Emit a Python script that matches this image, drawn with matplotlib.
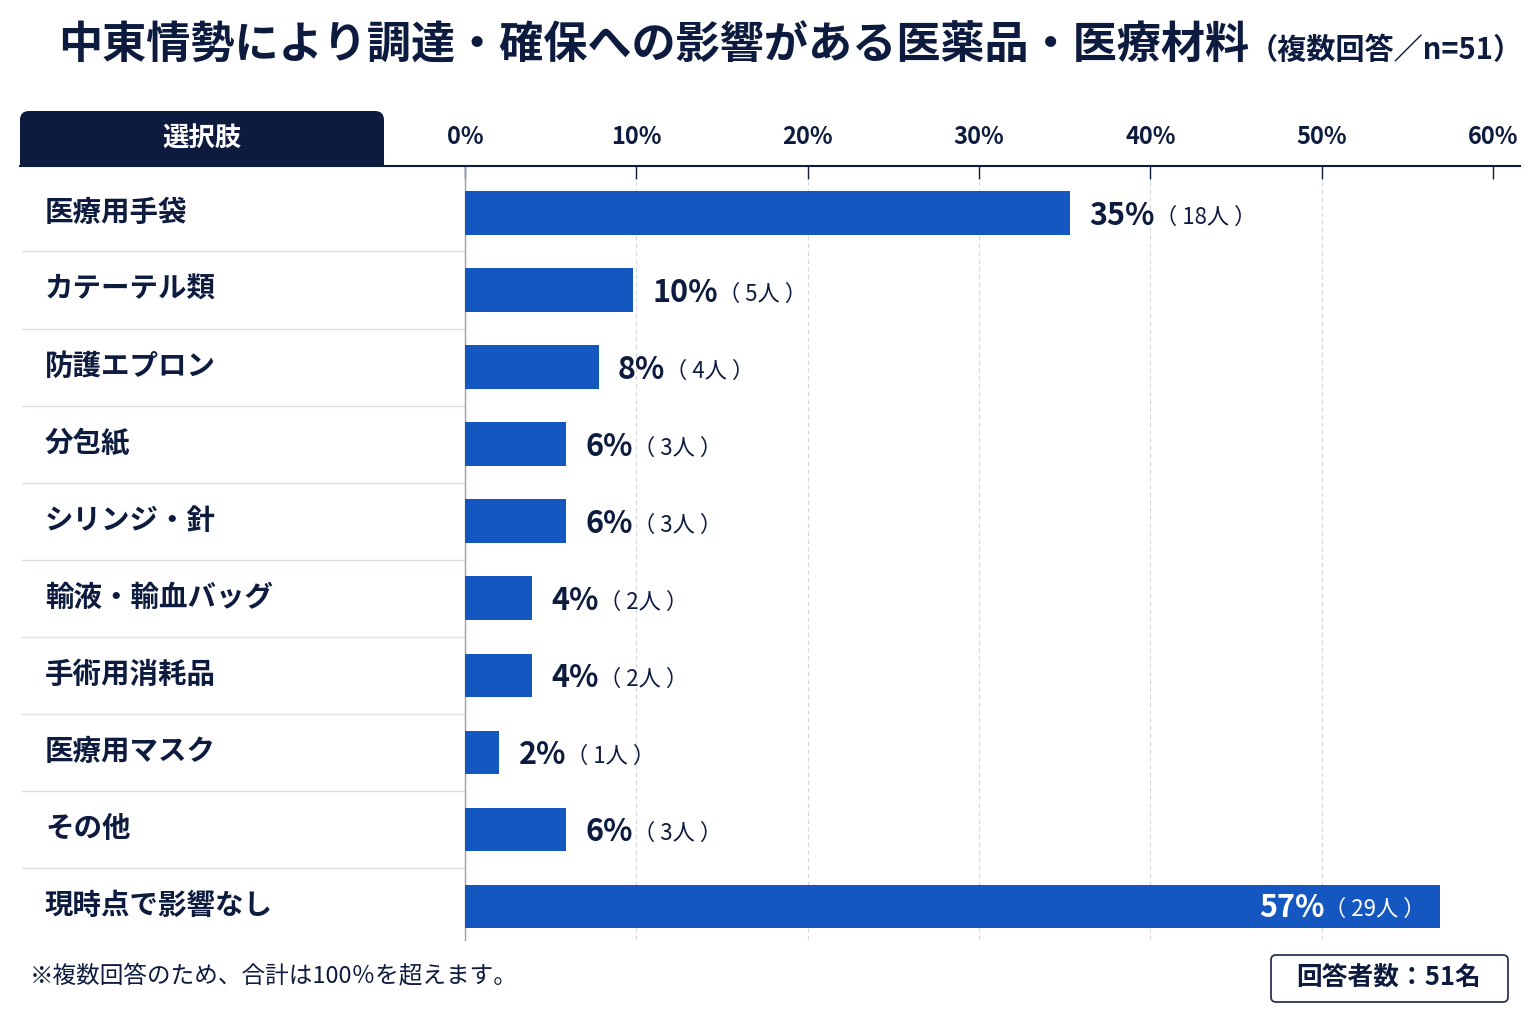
import matplotlib
matplotlib.use('Agg')
import matplotlib.pyplot as plt
from matplotlib.patches import FancyBboxPatch, Rectangle
from matplotlib.lines import Line2D
from matplotlib.transforms import blended_transform_factory, IdentityTransform

plt.rcParams['font.family'] = ['Noto Sans CJK JP', 'DejaVu Sans']

categories = ['医療用手袋', 'カテーテル類', '防護エプロン', '分包紙', 'シリンジ・針',
              '輸液・輸血バッグ', '手術用消耗品', '医療用マスク', 'その他', '現時点で影響なし']
percent = [35.3, 9.8, 7.8, 5.9, 5.9, 3.9, 3.9, 2.0, 5.9, 56.9]
pct_labels = ['35%', '10%', '8%', '6%', '6%', '4%', '4%', '2%', '6%', '57%']
counts = [18, 5, 4, 3, 3, 2, 2, 1, 3, 29]
x_ticks = [0, 10, 20, 30, 40, 50, 60]

NAVY = '#0d1b3e'
BAR = '#1557c0'
W, H = 1536, 1024


def fx(px):
    return px / W


def fy(py):
    return 1 - py / H


fig = plt.figure(figsize=(15.36, 10.24), dpi=100)
fig.patch.set_facecolor('white')

ax = fig.add_axes([fx(465), fy(940), fx(1493) - fx(465), fy(166) - fy(940)])
rows = list(range(len(categories)))
ax.barh(rows, percent, height=0.56, color=BAR, zorder=3)
ax.set_xlim(0, 60)
ax.set_ylim(9.44, -0.61)

ax.set_xticks(x_ticks)
ax.set_xticklabels([f'{t}%' for t in x_ticks])
ax.xaxis.tick_top()
ax.tick_params(axis='x', direction='in', length=9, width=1, color=NAVY,
               labelsize=17, labelcolor=NAVY, pad=12)
for lbl in ax.get_xticklabels():
    lbl.set_fontweight('bold')
ax.set_yticks([])
ax.grid(axis='x', color='#d3d6dc', lw=0.8, ls=(0, (4, 3)), zorder=0)
for s in ['top', 'right', 'bottom']:
    ax.spines[s].set_visible(False)
ax.spines['left'].set_color('#9aa0aa')
ax.spines['left'].set_linewidth(1)

# header line across the table
fig.add_artist(Line2D([fx(20), fx(1520)], [fy(166), fy(166)], color=NAVY, lw=1.5))

# category labels and row separators
trans = blended_transform_factory(fig.transFigure, ax.transData)
for i, cat in enumerate(categories):
    ax.text(fx(45), i, cat, transform=trans, ha='left', va='center', fontsize=20.5,
            fontweight='bold', color=NAVY, clip_on=False)
for i in range(len(categories) - 1):
    ax.add_line(Line2D([fx(22), fx(465)], [i + 0.5, i + 0.5], transform=trans,
                       color='#dcdfe4', lw=1, clip_on=False))

# value labels
for i, (v, p, c) in enumerate(zip(percent, pct_labels, counts)):
    if v > 50:
        t2 = ax.annotate(f'（ {c}人 ）', xy=(v, i), xytext=(-10, -2), textcoords='offset points',
                         ha='right', va='center', fontsize=16, color='white', zorder=5)
        ax.annotate(p, xy=(0, 0.55), xycoords=t2, ha='right', va='center',
                    fontsize=22, fontweight='bold', color='white', zorder=5)
    else:
        t = ax.annotate(p, xy=(v, i), xytext=(14, -2), textcoords='offset points',
                        ha='left', va='center', fontsize=22, fontweight='bold', color=NAVY)
        ax.annotate(f'（ {c}人 ）', xy=(1, 0.45), xycoords=t, ha='left', va='center',
                    fontsize=16, color=NAVY)

# header box "選択肢"
px = IdentityTransform()
hb = FancyBboxPatch((20, H - 166), 364, 55, boxstyle='round,pad=0,rounding_size=9',
                    transform=px, fc=NAVY, ec='none')
fig.add_artist(hb)
fig.add_artist(Rectangle((20, H - 166), 364, 25, transform=px, fc=NAVY, ec='none'))
fig.text(fx(202), fy(138), '選択肢', ha='center', va='center', fontsize=19,
         fontweight='bold', color='white')

# title
title = fig.text(fx(58), fy(46), '中東情勢により調達・確保への影響がある医薬品・医療材料',
                 ha='left', va='center', fontsize=31.8, fontweight='bold', color=NAVY)
plt.annotate('（複数回答／n=51）', xy=(1, 0.42), xycoords=title, ha='left', va='center',
             fontsize=21, fontweight='bold', color=NAVY, annotation_clip=False)

# footnote and respondent box
fig.text(fx(30), fy(977), '※複数回答のため、合計は100％を超えます。', ha='left', va='center',
         fontsize=17, color=NAVY)
rb = FancyBboxPatch((1271, H - 1002), 237, 47, boxstyle='round,pad=0,rounding_size=5',
                    transform=px, fc='white', ec='#2a3550', lw=1.3)
fig.add_artist(rb)
fig.text(fx(1389), fy(978), '回答者数：51名', ha='center', va='center', fontsize=18.5,
         fontweight='bold', color=NAVY)

fig.savefig('out.png', dpi=100)
